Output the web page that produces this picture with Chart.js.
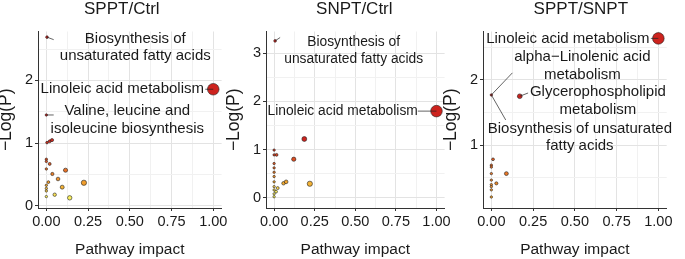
<!DOCTYPE html>
<html>
<head>
<meta charset="utf-8">
<script src="https://cdn.jsdelivr.net/npm/chart.js@4.4.1/dist/chart.umd.min.js"></script>
<style>
  html, body { margin: 0; padding: 0; background: #fff; }
  #wrap { position: relative; width: 685px; height: 259px; overflow: hidden; }
  .panel { position: absolute; top: 0; height: 259px; }
</style>
</head>
<body>
<div id="wrap">
  <div class="panel" style="left:-3px"><canvas id="c1" width="232" height="259"></canvas></div>
  <div class="panel" style="left:225px"><canvas id="c2" width="226" height="259"></canvas></div>
  <div class="panel" style="left:442px"><canvas id="c3" width="243" height="259"></canvas></div>
</div>
<script>
// ===== DATA =====

// tick values shared by the three panels
const impactTicks = [0, 0.125, 0.25, 0.375, 0.5, 0.625, 0.75, 0.875, 1];

// SPPT/Ctrl
const spptCtrlImpact = [1.0, 0.004, 0.0, 0.004, 0.02, 0.034, 0.0, 0.0, 0.02, 0.0, 0.036, 0.115, 0.012, 0.07, 0.225, 0.095, 0.0, 0.0, 0.0, 0.05, 0.14, 0.0];
const spptCtrlLogP   = [1.86, 2.69, 1.45, 1.01, 1.03, 1.05, 0.745, 0.71, 0.67, 0.59, 0.51, 0.57, 0.38, 0.43, 0.37, 0.30, 0.33, 0.28, 0.24, 0.18, 0.13, 0.15];
const spptCtrlTicks  = [0, 0.5, 1, 1.5, 2, 2.5];
const spptCtrlNames  = [["Linoleic acid metabolism"], ["Biosynthesis of", "unsaturated fatty acids"], ["Valine, leucine and", "isoleucine biosynthesis"]];
const spptCtrlNamed  = [0, 1, 2];                      // which point each name belongs to
const spptCtrlNameAt = [[0.455, 1.86], [0.533, 2.53], [0.485, 1.37]];
const spptCtrlLeadTo = [[0.952, 1.86], [0.044, 2.65], [0.044, 1.45]];

// SNPT/Ctrl
const snptCtrlImpact = [1.0, 0.006, 0.186, 0.121, 0.015, 0.0, 0.0, 0.0, 0.0, 0.0, 0.0, 0.0, 0.0, 0.0, 0.0, 0.0, 0.058, 0.074, 0.22, 0.012, 0.022];
const snptCtrlLogP   = [1.80, 3.26, 1.22, 0.80, 0.89, 0.89, 0.99, 0.71, 0.62, 0.53, 0.44, 0.33, 0.23, 0.16, 0.08, 0.02, 0.30, 0.33, 0.29, 0.125, 0.20];
const snptCtrlTicks  = [0, 0.5, 1, 1.5, 2, 2.5, 3];
const snptCtrlNames  = [["Linoleic acid metabolism"], ["Biosynthesis of", "unsaturated fatty acids"]];
const snptCtrlNamed  = [0, 1];
const snptCtrlNameAt = [[0.422, 1.80], [0.49, 3.06]];
const snptCtrlLeadTo = [[0.885, 1.80], [0.037, 3.33]];

// SPPT/SNPT
const spptSnptImpact = [1.0, 0.17, 0.0, 0.01, 0.0, 0.0, 0.09, 0.0, 0.0, 0.03, 0.0, 0.0, 0.0, 0.0];
const spptSnptLogP   = [2.64, 1.75, 1.77, 0.78, 0.69, 0.66, 0.56, 0.56, 0.46, 0.41, 0.39, 0.36, 0.31, 0.20];
const spptSnptTicks  = [0.5, 1, 1.5, 2, 2.5];
const spptSnptNames  = [["Linoleic acid metabolism"], ["alpha\u2212Linolenic acid", "metabolism"], ["Glycerophospholipid", "metabolism"], ["Biosynthesis of unsaturated", "fatty acids"]];
const spptSnptNamed  = [0, 2, 1, 2];
const spptSnptNameAt = [[0.458, 2.64], [0.545, 2.22], [0.638, 1.68], [0.53, 1.12]];
const spptSnptLeadTo = [[0.955, 2.64], [0.126, 2.11], [0.22, 1.80], [0.086, 1.385]];

// ===== STYLE HELPERS =====
const FONT = "'Liberation Sans', Arial, Helvetica, sans-serif";
const INK = "#1a1a1a";

// yellow -> orange -> red, like the heat fill of the original
const heatAt = [0, 0.2, 0.55, 1];
const heatRgb = [[250, 240, 95], [242, 165, 45], [226, 92, 35], [205, 35, 30]];
function heatColour(t) {
  t = Math.max(0, Math.min(1, t));
  let i = 0;
  while (i < heatAt.length - 2 && t > heatAt[i + 1]) i++;
  const f = (t - heatAt[i]) / (heatAt[i + 1] - heatAt[i]);
  const a = heatRgb[i], b = heatRgb[i + 1];
  const c = a.map((v, k) => Math.round(v + (b[k] - v) * f));
  return `rgb(${c[0]},${c[1]},${c[2]})`;
}

function pointRadius(impact) {
  return 1.2 + 1.6 * Math.sqrt(impact) + 3 * impact;
}

const isMajor = (v, step) => Math.abs(v / step - Math.round(v / step)) < 1e-6;

// pathway names with their leader segments + panel title
const pathLabels = {
  id: "pathLabels",
  afterDatasetsDraw(chart, args, opts) {
    const { ctx, scales: { x, y }, chartArea } = chart;
    ctx.save();
    // leader segments
    ctx.strokeStyle = "#222";
    ctx.lineWidth = 0.7;
    opts.named.forEach((idx, i) => {
      ctx.beginPath();
      ctx.moveTo(x.getPixelForValue(opts.impact[idx]), y.getPixelForValue(opts.logp[idx]));
      ctx.lineTo(x.getPixelForValue(opts.leadTo[i][0]), y.getPixelForValue(opts.leadTo[i][1]));
      ctx.stroke();
    });
    // names
    ctx.fillStyle = INK;
    ctx.font = `${opts.nameSize}px ${FONT}`;
    ctx.textAlign = "center";
    ctx.textBaseline = "middle";
    const lh = 17.5;
    opts.names.forEach((lines, i) => {
      const cx = x.getPixelForValue(opts.nameAt[i][0]);
      const cy = y.getPixelForValue(opts.nameAt[i][1]);
      lines.forEach((t, k) => {
        ctx.fillText(t, cx, cy + (k - (lines.length - 1) / 2) * lh);
      });
    });
    // title
    ctx.font = `17px ${FONT}`;
    ctx.fillText(opts.title, (chartArea.left + chartArea.right) / 2 + opts.titleShift, 9);
    ctx.restore();
  }
};

function makePanel(id, title, impact, logp, yTicks, yMin, yMax, names, named, nameAt, leadTo, look) {
  const ctx = document.getElementById(id).getContext("2d");
  const points = impact.map((v, i) => ({ x: v, y: logp[i] }));
  return new Chart(ctx, {
    type: "scatter",
    data: {
      datasets: [{
        data: points,
        backgroundColor: c => heatColour((c.raw.y - look.lo) / (look.hi - look.lo)),
        borderColor: "#222",
        borderWidth: 0.6,
        pointRadius: c => pointRadius(c.raw.x),
        pointHoverRadius: c => pointRadius(c.raw.x)
      }]
    },
    options: {
      responsive: false,
      animation: false,
      events: [],
      layout: { padding: { top: 31.5, right: look.padRight, bottom: 0, left: 0 } },
      plugins: {
        legend: { display: false },
        tooltip: { enabled: false },
        title: { display: false },
        pathLabels: { title, titleShift: look.titleShift, nameSize: look.nameSize, impact, logp, names, named, nameAt, leadTo }
      },
      scales: {
        x: {
          type: "linear",
          min: -0.05,
          max: 1.05,
          afterBuildTicks: s => { s.ticks = impactTicks.map(v => ({ value: v })); },
          afterFit: s => { s.height = 51; s.paddingLeft = 0; s.paddingRight = 0; },
          ticks: {
            autoSkip: false,
            maxRotation: 0,
            padding: 2,
            color: INK,
            font: { family: FONT, size: 14.5 },
            callback: v => (isMajor(v, 0.25) ? v.toFixed(2) : "")
          },
          grid: {
            color: c => (c.tick && isMajor(c.tick.value, 0.25) ? "#e3e3e3" : "#f1f1f1"),
            tickColor: c => (c.tick && isMajor(c.tick.value, 0.25) ? "#333" : "rgba(0,0,0,0)"),
            tickLength: 3,
            lineWidth: 1
          },
          border: { display: true, color: "#333", width: 1 },
          title: {
            display: true,
            text: "Pathway impact",
            color: INK,
            font: { family: FONT, size: 15.5 },
            padding: { top: 0, bottom: 0 }
          }
        },
        y: {
          type: "linear",
          min: yMin,
          max: yMax,
          afterBuildTicks: s => { s.ticks = yTicks.map(v => ({ value: v })); },
          afterFit: s => { s.width = 41; s.paddingTop = 0; s.paddingBottom = 0; },
          ticks: {
            autoSkip: false,
            padding: 2,
            color: INK,
            font: { family: FONT, size: 14.5 },
            callback: v => (isMajor(v, 1) ? String(Math.round(v)) : "")
          },
          grid: {
            color: c => (c.tick && isMajor(c.tick.value, 1) ? "#e3e3e3" : "#f1f1f1"),
            tickColor: c => (c.tick && isMajor(c.tick.value, 1) ? "#333" : "rgba(0,0,0,0)"),
            tickLength: 3,
            lineWidth: 1
          },
          border: { display: true, color: "#333", width: 1 },
          title: {
            display: true,
            text: "\u2212Log(P)",
            color: INK,
            font: { family: FONT, size: 17.5, lineHeight: 1.05 },
            padding: { top: 0, bottom: 0 }
          }
        }
      }
    },
    plugins: [pathLabels]
  });
}

makePanel("c1", "SPPT/Ctrl", spptCtrlImpact, spptCtrlLogP, spptCtrlTicks, -0.032, 2.78,
  spptCtrlNames, spptCtrlNamed, spptCtrlNameAt, spptCtrlLeadTo,
  { lo: 0.14, hi: 1.1, padRight: 7.4, titleShift: -8, nameSize: 15 });

makePanel("c2", "SNPT/Ctrl", snptCtrlImpact, snptCtrlLogP, snptCtrlTicks, -0.214, 3.455,
  snptCtrlNames, snptCtrlNamed, snptCtrlNameAt, snptCtrlLeadTo,
  { lo: 0.12, hi: 1.15, padRight: 6.3, titleShift: -1, nameSize: 13.8 });

makePanel("c3", "SPPT/SNPT", spptSnptImpact, spptSnptLogP, spptSnptTicks, 0.031, 2.746,
  spptSnptNames, spptSnptNamed, spptSnptNameAt, spptSnptLeadTo,
  { lo: -0.2, hi: 1.6, padRight: 18.3, titleShift: 6, nameSize: 15 });
</script>
</body>
</html>
